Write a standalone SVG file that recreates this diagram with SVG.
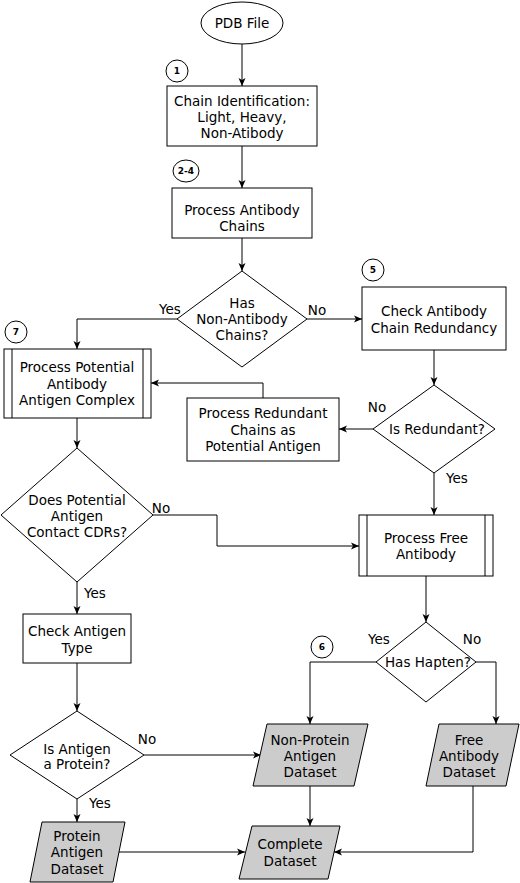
<svg xmlns="http://www.w3.org/2000/svg" width="520" height="883" viewBox="0 0 520 883">
<defs>
<style>
.s{fill:#fff;stroke:#000;stroke-width:1}
.d{fill:#cccccc;stroke:#000;stroke-width:1}
.l{fill:none;stroke:#000;stroke-width:1}
text{font-family:"DejaVu Sans",Verdana,sans-serif;font-size:13.5px;fill:#000;text-anchor:middle}
.n{font-size:9px;font-weight:bold}
.c{fill:#fff;stroke:#000;stroke-width:1}
</style>
<marker id="a" markerWidth="10" markerHeight="10" refX="9" refY="4" orient="auto" markerUnits="userSpaceOnUse">
<path d="M1,0.5 L9,4 L1,7.5 L3,4 z" fill="#000"/>
</marker>
</defs>
<rect width="520" height="883" fill="#fff"/>
<g id="connectors">
<path class="l" marker-end="url(#a)" d="M242,44 V86"/>
<path class="l" marker-end="url(#a)" d="M242,146 V188"/>
<path class="l" marker-end="url(#a)" d="M242,238 V271"/>
<path class="l" marker-end="url(#a)" d="M177,319 H77 V349"/>
<path class="l" marker-end="url(#a)" d="M307,319 H362"/>
<path class="l" marker-end="url(#a)" d="M434,350 V385"/>
<path class="l" marker-end="url(#a)" d="M373,429 H339"/>
<path class="l" marker-end="url(#a)" d="M434,473 V515"/>
<path class="l" marker-end="url(#a)" d="M263,398 V383 H151"/>
<path class="l" marker-end="url(#a)" d="M77,418 V448"/>
<path class="l" marker-end="url(#a)" d="M153,515 H217 V546 H359"/>
<path class="l" marker-end="url(#a)" d="M77,582 V614"/>
<path class="l" marker-end="url(#a)" d="M77,663 V711"/>
<path class="l" marker-end="url(#a)" d="M426,576 V622"/>
<path class="l" marker-end="url(#a)" d="M376,662 H310 V724"/>
<path class="l" marker-end="url(#a)" d="M476,662 H496 V724"/>
<path class="l" marker-end="url(#a)" d="M144,755 H261"/>
<path class="l" marker-end="url(#a)" d="M77,799 V822"/>
<path class="l" marker-end="url(#a)" d="M119,852 H245"/>
<path class="l" marker-end="url(#a)" d="M310,786 V826"/>
<path class="l" marker-end="url(#a)" d="M473,786 V852 H334"/>
</g>
<g id="labels">
<text x="170" y="314">Yes</text>
<text x="317" y="315">No</text>
<text x="377" y="412">No</text>
<text x="457" y="483">Yes</text>
<text x="161" y="513">No</text>
<text x="95" y="598">Yes</text>
<text x="379" y="644">Yes</text>
<text x="472" y="644">No</text>
<text x="147" y="744">No</text>
<text x="100" y="808">Yes</text>
</g>
<g id="pdb"><ellipse class="s" cx="242" cy="23" rx="41" ry="21"/><text x="242" y="28">PDB File</text></g>
<g id="step1"><circle class="c" cx="177" cy="71" r="11"/><text class="n" x="177" y="74">1</text></g>
<g id="chainid"><rect class="s" x="167" y="86" width="150" height="60"/><text x="242" y="106">Chain Identification:</text><text x="242" y="122">Light, Heavy,</text><text x="242" y="138">Non-Atibody</text></g>
<g id="step24"><ellipse class="c" cx="186" cy="171" rx="13" ry="11"/><text class="n" x="186" y="174">2-4</text></g>
<g id="procab"><rect class="s" x="172" y="188" width="140" height="50"/><text x="242" y="215">Process Antibody</text><text x="242" y="231">Chains</text></g>
<g id="hasnonab"><path class="s" d="M242,271 L307,319 L242,367 L177,319 Z"/><text x="242" y="308">Has</text><text x="242" y="324">Non-Antibody</text><text x="242" y="340">Chains?</text></g>
<g id="step5"><circle class="c" cx="373" cy="270" r="11"/><text class="n" x="373" y="273">5</text></g>
<g id="checkred"><rect class="s" x="362" y="287" width="144" height="63"/><text x="434" y="316">Check Antibody</text><text x="434" y="333">Chain Redundancy</text></g>
<g id="step7"><circle class="c" cx="16" cy="332" r="11"/><text class="n" x="16" y="335">7</text></g>
<g id="procpot"><rect class="s" x="4" y="349" width="147" height="69"/><path class="l" d="M12,349 V418 M143,349 V418"/><text x="77" y="372">Process Potential</text><text x="77" y="389">Antibody</text><text x="77" y="405">Antigen Complex</text></g>
<g id="procred"><rect class="s" x="187" y="398" width="152" height="63"/><text x="263" y="418">Process Redundant</text><text x="263" y="435">Chains as</text><text x="263" y="451">Potential Antigen</text></g>
<g id="isred"><path class="s" d="M434,385 L495,429 L434,473 L373,429 Z"/><text x="437" y="434">Is Redundant?</text></g>
<g id="contact"><path class="s" d="M77,448 L153,515 L77,582 L1,515 Z"/><text x="77" y="505">Does Potential</text><text x="77" y="521">Antigen</text><text x="77" y="537">Contact CDRs?</text></g>
<g id="procfree"><rect class="s" x="359" y="515" width="134" height="61"/><path class="l" d="M367,515 V576 M485,515 V576"/><text x="426" y="543">Process Free</text><text x="426" y="559">Antibody</text></g>
<g id="checktype"><rect class="s" x="23" y="614" width="108" height="49"/><text x="77" y="636">Check Antigen</text><text x="77" y="653">Type</text></g>
<g id="step6"><circle class="c" cx="322" cy="647" r="11"/><text class="n" x="322" y="650">6</text></g>
<g id="hapten"><path class="s" d="M426,622 L476,662 L426,702 L376,662 Z"/><text x="428" y="667">Has Hapten?</text></g>
<g id="isprot"><path class="s" d="M77,711 L144,755 L77,799 L10,755 Z"/><text x="77" y="754">Is Antigen</text><text x="77" y="769">a Protein?</text></g>
<g id="nonprot"><path class="d" d="M267,724 H368 L354,786 H253 Z"/><text x="310" y="745">Non-Protein</text><text x="310" y="761">Antigen</text><text x="310" y="777">Dataset</text></g>
<g id="freeds"><path class="d" d="M439,724 H519 L506,786 H426 Z"/><text x="469" y="745">Free</text><text x="469" y="761">Antibody</text><text x="469" y="777">Dataset</text></g>
<g id="protds"><path class="d" d="M42,822 H125 L113,882 H30 Z"/><text x="77" y="841">Protein</text><text x="77" y="857">Antigen</text><text x="77" y="874">Dataset</text></g>
<g id="complete"><path class="d" d="M252,826 H340 L328,879 H239 Z"/><text x="290" y="849">Complete</text><text x="290" y="866">Dataset</text></g>
</svg>
